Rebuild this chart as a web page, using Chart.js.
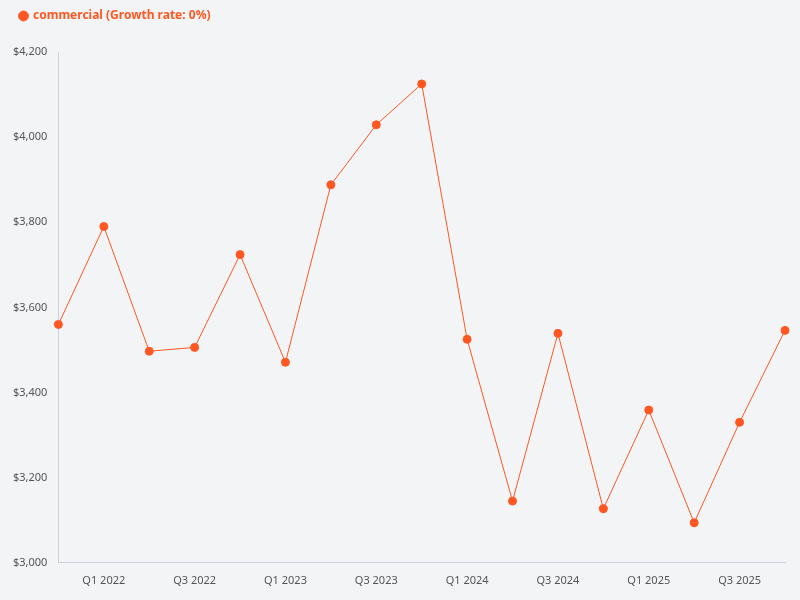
<!DOCTYPE html>
<html>
<head>
<meta charset="utf-8">
<script src="https://cdn.jsdelivr.net/npm/chart.js@4/dist/chart.umd.min.js"></script>
<style>
  html, body { margin: 0; padding: 0; background: #f3f4f6; }
  #wrap { width: 800px; height: 600px; }
</style>
</head>
<body>
<div id="wrap"><canvas id="lineChart" width="800" height="600"></canvas></div>
<script>
const quarters = ['Q4 2021', 'Q1 2022', 'Q2 2022', 'Q3 2022', 'Q4 2022', 'Q1 2023', 'Q2 2023', 'Q3 2023', 'Q4 2023',
  'Q1 2024', 'Q2 2024', 'Q3 2024', 'Q4 2024', 'Q1 2025', 'Q2 2025', 'Q3 2025', 'Q4 2025'];
const commercial = [3560, 3790, 3497, 3506, 3724, 3471, 3888, 4029, 4125, 3525, 3145, 3539, 3127, 3359, 3094, 3330, 3546];

const ctx = document.getElementById('lineChart').getContext('2d');

// push the plot area down a bit below the legend
const legendGap = {
  id: 'legendGap',
  beforeInit(chart) {
    const fit = chart.legend.fit;
    chart.legend.fit = function () {
      fit.bind(chart.legend)();
      this.height += 20;
    };
  }
};

new Chart(ctx, {
  type: 'line',
  data: {
    labels: quarters,
    datasets: [{
      label: 'commercial (Growth rate: 0%)',
      data: commercial,
      borderColor: '#ff5722',
      backgroundColor: '#ff5722',
      borderWidth: 1,
      pointRadius: 4,
      pointHoverRadius: 5,
      tension: 0
    }]
  },
  options: {
    responsive: false,
    animation: false,
    layout: { padding: { left: 10, right: 15, top: 0, bottom: 10 } },
    plugins: {
      legend: {
        align: 'start',
        labels: {
          color: '#ff5722',
          usePointStyle: true,
          pointStyle: 'circle',
          boxWidth: 7,
          boxHeight: 7,
          font: { family: 'Noto Sans', size: 12, weight: 'bold' }
        }
      }
    },
    scales: {
      x: {
        offset: false,
        grid: { display: false },
        border: { color: '#c9d3e0' },
        ticks: {
          color: '#555',
          autoSkip: false,
          maxRotation: 0,
          font: { family: 'Noto Sans', size: 11 },
          callback: function (v, i) { return i % 2 === 1 ? quarters[i] : ''; }
        }
      },
      y: {
        min: 3000,
        max: 4200,
        grid: { display: false },
        border: { color: '#c9d3e0' },
        ticks: {
          stepSize: 200,
          color: '#555',
          font: { family: 'Noto Sans', size: 11 },
          callback: v => '$' + v.toLocaleString('en-US')
        }
      }
    }
  },
  plugins: [legendGap]
});
</script>
</body>
</html>
